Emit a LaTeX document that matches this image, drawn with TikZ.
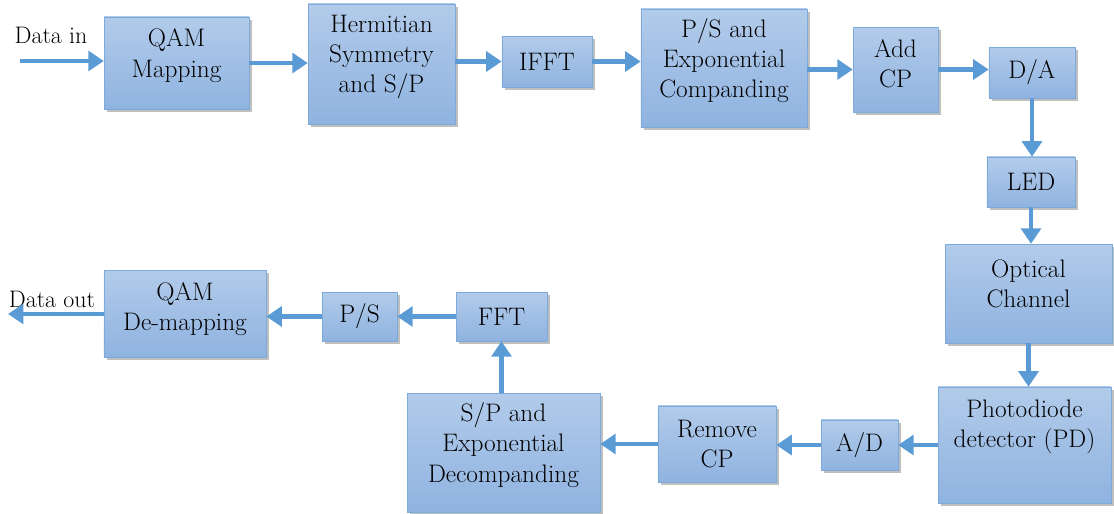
\documentclass[tikz,border=0pt]{standalone}
\usetikzlibrary{shadows,arrows.meta}
\definecolor{arrowblue}{HTML}{5B9BD5}
\definecolor{boxtop}{HTML}{B2CBEA}
\definecolor{boxbottom}{HTML}{8FB3E0}
\definecolor{boxline}{HTML}{7EA9DB}
\tikzset{
    blocknode/.style={
        rectangle,
        draw=boxline, % border
        top color=boxtop, % light top
        bottom color=boxbottom, % darker bottom
        drop shadow={shadow xshift=2.2pt,shadow yshift=-2.2pt,opacity=0.5},
        inner sep=0,
        align=center,
        font=\fontsize{18}{21.5}\selectfont
    },
    flowarrow/.style={
        draw=arrowblue,
        line width=3.4pt,
        -{Triangle[length=11pt,width=14pt]}
    },
    labelnode/.style={
        inner sep=0,
        font=\fontsize{17}{21}\selectfont
    }
}

\begin{document}
\begin{tikzpicture}[x=0.025cm,y=-0.025cm]
    \useasboundingbox (0,0) rectangle (1114,514);
    % transmitter
    \node[blocknode,minimum width=3.62cm,minimum height=2.3cm,text depth=0.5cm] (qam) at (176.5,63) {QAM\\Mapping};
    \node[blocknode,minimum width=3.67cm,minimum height=3cm,text depth=0.5cm] (herm) at (381.5,64) {Hermitian\\Symmetry\\and S/P};
    \node[blocknode,minimum width=2.25cm,minimum height=1.27cm] (ifft) at (547,61.5) {IFFT};
    \node[blocknode,minimum width=4.15cm,minimum height=2.95cm,text depth=0.5cm] (ps) at (724,68) {P/S and\\Exponential\\Companding};
    \node[blocknode,minimum width=2.12cm,minimum height=2.12cm,text depth=0.3cm] (addcp) at (895.5,69.5) {Add\\CP};
    \node[blocknode,minimum width=2.15cm,minimum height=1.27cm] (da) at (1032,72.5) {D/A};
    \node[blocknode,minimum width=2.2cm,minimum height=1.25cm] (led) at (1031,182) {LED};
    % channel and receiver
    \node[blocknode,minimum width=4.17cm,minimum height=2.47cm,text depth=0.5cm] (chan) at (1028.5,293.5) {Optical\\Channel};
    \node[blocknode,minimum width=4.32cm,minimum height=2.9cm,text depth=1.05cm] (pd) at (1024.5,445) {Photodiode\\detector (PD)};
    \node[blocknode,minimum width=1.92cm,minimum height=1.25cm] (ad) at (859.5,445) {A/D};
    \node[blocknode,minimum width=2.95cm,minimum height=1.9cm] (rmcp) at (717,444) {Remove\\CP};
    \node[blocknode,minimum width=4.82cm,minimum height=2.97cm,text depth=0.5cm] (sp) at (503.5,452.5) {S/P and\\Exponential\\Decompanding};
    \node[blocknode,minimum width=2.27cm,minimum height=1.22cm] (fft) at (501.5,316.5) {FFT};
    \node[blocknode,minimum width=1.87cm,minimum height=1.22cm] (pstwo) at (359.5,316.5) {P/S};
    \node[blocknode,minimum width=4.05cm,minimum height=2.17cm,text depth=0.35cm] (demap) at (185,313.5) {QAM\\De-mapping};
    % input and output
    \node[labelnode] (datain) at (51,35) {Data in};
    \node[labelnode] (dataout) at (52,299) {Data out};
    \coordinate (instart) at (20,61);
    \coordinate (outend) at (8,314);
    % arrows
    \draw[flowarrow] (instart) -- (qam.west |- instart);
    \draw[flowarrow] (qam) -- (herm.west |- qam);
    \draw[flowarrow] (herm.east |- ifft) -- (ifft);
    \draw[flowarrow] (ifft) -- (ps.west |- ifft);
    \draw[flowarrow] (ps.east |- addcp) -- (addcp);
    \draw[flowarrow] (addcp) -- (da.west |- addcp);
    \draw[flowarrow] (da) -- (led.north -| da);
    \draw[flowarrow] (led) -- (chan.north -| led);
    \draw[flowarrow] (chan) -- (pd.north -| chan);
    \draw[flowarrow] (pd.west |- ad) -- (ad);
    \draw[flowarrow] (ad) -- (rmcp.east |- ad);
    \draw[flowarrow] (rmcp) -- (sp.east |- rmcp);
    \draw[flowarrow] (sp.north -| fft) -- (fft);
    \draw[flowarrow] (fft) -- (pstwo);
    \draw[flowarrow] (pstwo) -- (demap.east |- pstwo);
    \draw[flowarrow] (demap.west |- outend) -- (outend);
\end{tikzpicture}
\end{document}
